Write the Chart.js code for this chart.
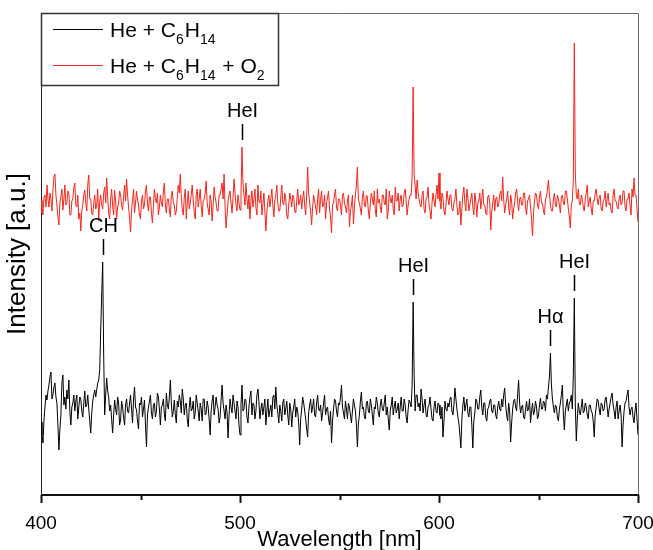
<!DOCTYPE html>
<html>
<head>
<meta charset="utf-8">
<script src="https://cdn.jsdelivr.net/npm/chart.js@4.4.1/dist/chart.umd.min.js"></script>
<style>
  html, body { margin:0; padding:0; background:#fff; }
  #chart { display:block; }
</style>
</head>
<body>
<canvas id="chart" width="653" height="550"></canvas>
<script>
// spectra sampled every 0.5 nm from 400 to 700 nm, intensity in a.u.
const startNm = 400;
const stepNm = 0.5;

// He + C6H14
const heHexane = [
  73,60, 52,75, 88,100, 95,104, 110,118, 123,96, 100,108, 112,98, 92,70, 45,66,
  80,112, 120,90, 98,86, 105,96, 115,84, 70,88, 92,100, 84,94, 100,76, 88,98,
  96,84, 78,92, 104,88, 90,100, 86,74, 62,82, 94,100, 105,98, 105,112, 115,125,
  165,200, 233,140, 80,100, 117,104, 98,84, 90,76, 62,80, 95,86, 80,98, 92,70,
  75,94, 88,78, 70,90, 96,84, 82,92, 100,86, 72,96, 108,88, 85,74, 66,92,
  90,98, 78,86, 95,70, 48,80, 88,94, 100,82, 76,90, 92,78, 84,102, 98,86,
  70,88, 90,96, 80,74, 102,90, 86,98, 115,92, 78,84, 95,80, 72,94, 88,100,
  94,82, 106,96, 80,90, 92,76, 68,88, 98,84, 86,94, 76,82, 100,92, 84,74,
  92,86, 74,96, 96,80, 82,94, 88,76, 60,84, 94,100, 80,88, 98,90, 86,72,
  78,96, 110,92, 84,76, 90,82, 57,80, 96,88, 82,100, 92,84, 76,94, 88,70,
  60,90, 110,84, 86,96, 94,78, 72,88, 98,104, 80,92, 90,76, 84,100, 106,94,
  76,86, 92,80, 88,96, 70,84, 96,78, 84,90, 78,98, 100,86, 108,90, 82,72,
  90,84, 74,92, 96,80, 86,94, 80,70, 92,86, 68,82, 88,96, 78,88, 84,72,
  50,76, 86,98, 92,84, 76,66, 58,82, 90,96, 82,88, 96,80, 78,92, 100,86,
  84,90, 74,82, 92,100, 80,86, 88,76, 70,84, 52,74, 86,96, 94,84, 78,92,
  90,98, 110,88, 82,76, 94,86, 76,92, 88,80, 72,84, 96,90, 84,70, 48,72,
  80,94, 103,86, 88,78, 76,92, 94,84, 82,96, 90,80, 70,88, 86,98, 92,82,
  78,90, 96,86, 84,92, 100,80, 88,76, 65,84, 90,98, 80,88, 94,82, 86,92,
  76,88, 98,84, 84,96, 90,78, 72,86, 95,92, 88,110, 193,120, 84,100, 100,88,
  92,84, 106,96, 82,90, 96,80, 78,88, 90,98, 86,76, 74,88, 94,84, 82,92,
  90,80, 76,88, 58,74, 94,86, 84,92, 88,96, 98,84, 80,90, 107,96, 86,78,
  72,60, 47,76, 90,98, 84,90, 96,82, 78,88, 88,70, 47,74, 82,96, 94,86,
  86,98, 105,88, 80,92, 92,78, 74,86, 88,94, 96,84, 82,90, 90,80, 76,88,
  94,86, 84,96, 88,100, 107,90, 80,74, 92,84, 53,72, 86,94, 96,88, 84,100,
  115,92, 82,88, 90,78, 76,86, 94,84, 86,96, 72,84, 92,80, 84,94, 88,76,
  80,90, 97,86, 86,94, 92,84, 100,96, 108,118, 142,110, 96,88, 82,90, 88,78,
  74,86, 92,100, 110,80, 65,84, 90,96, 84,92, 94,100, 86,120, 197,90, 54,76,
  92,84, 80,88, 96,82, 84,92, 88,80, 76,90, 90,84, 82,74, 58,80, 88,96,
  94,86, 80,92, 90,84, 86,96, 98,88, 78,86, 92,98, 102,90, 84,76, 88,94,
  76,84, 90,80, 48,70, 84,92, 94,100, 105,88, 80,86, 88,78, 72,84, 92,76,
  60
];

// He + C6H14 + O2
const heHexaneO2 = [
  295,282, 280,298, 300,288, 310,296, 288,302, 296,284, 305,318, 321,300, 290,278, 270,292,
  298,306, 285,296, 310,290, 292,304, 302,280, 280,294, 296,308, 312,290, 288,300, 276,282,
  264,284, 290,300, 305,292, 284,310, 320,296, 296,282, 280,292, 300,286, 290,306, 274,294,
  300,290, 286,302, 308,292, 317,298, 282,276, 296,306, 290,280, 305,294, 276,288, 292,304,
  300,290, 285,298, 310,294, 316,300, 288,278, 263,284, 295,306, 282,292, 304,296, 290,280,
  276,294, 300,286, 290,304, 310,292, 284,298, 298,282, 272,290, 306,296, 292,302, 280,288,
  300,292, 288,304, 312,290, 282,296, 296,286, 278,300, 304,292, 290,280, 284,298, 310,302,
  321,298, 286,280, 298,306, 276,292, 304,286, 292,300, 310,294, 282,276, 300,306, 288,296,
  306,290, 278,294, 296,302, 314,292, 286,280, 300,294, 274,290, 308,298, 292,284, 284,300,
  300,306, 312,296, 321,288, 267,280, 294,300, 304,292, 282,298, 316,302, 290,284, 300,292,
  285,300, 348,312, 300,290, 312,296, 286,300, 276,294, 304,288, 296,306, 288,280, 310,294,
  292,304, 280,290, 302,284, 264,282, 294,300, 288,296, 306,290, 278,294, 300,310, 292,284,
  284,298, 310,292, 290,302, 296,280, 276,290, 302,296, 288,300, 298,284, 282,294, 306,290,
  294,300, 286,296, 304,290, 280,300, 328,302, 292,284, 270,288, 300,294, 288,280, 296,306,
  282,296, 304,288, 290,300, 276,292, 298,304, 286,278, 262,290, 292,300, 306,288, 284,296,
  296,290, 280,300, 302,292, 288,282, 294,300, 268,284, 290,300, 271,288, 300,310, 328,296,
  292,286, 280,298, 304,290, 288,300, 298,284, 276,292, 302,296, 290,304, 284,278, 306,292,
  296,288, 282,300, 300,292, 290,306, 276,284, 304,296, 292,300, 286,280, 308,294, 294,302,
  284,296, 300,288, 290,302, 306,294, 280,290, 296,300, 300,318, 408,320, 310,296, 315,302,
  296,290, 288,300, 304,286, 282,296, 298,308, 290,284, 276,292, 302,294, 288,300, 310,296,
  322,294, 286,302, 298,284, 280,290, 304,296, 290,300, 300,286, 284,292, 296,306, 290,280,
  282,294, 270,286, 300,308, 292,284, 306,298, 284,290, 296,302, 288,280, 302,294, 278,292,
  294,302, 286,296, 306,290, 290,282, 280,298, 300,292, 265,284, 292,300, 284,296, 298,288,
  290,300, 304,294, 318,296, 282,290, 296,304, 288,280, 300,294, 276,286, 292,302, 306,294,
  284,296, 298,290, 290,302, 302,288, 280,294, 296,300, 288,276, 259,282, 294,302, 300,290,
  286,298, 304,292, 292,284, 280,296, 298,306, 315,300, 290,284, 284,296, 302,290, 288,300,
  296,290, 282,298, 300,292, 290,304, 304,296, 286,278, 267,290, 294,316, 452,322, 300,296,
  306,292, 290,300, 296,288, 284,296, 302,310, 288,294, 298,286, 280,294, 294,302, 306,296,
  290,298, 300,286, 284,294, 296,304, 288,296, 302,290, 292,284, 282,300, 306,294, 294,288,
  286,296, 300,290, 292,304, 304,288, 284,296, 296,302, 290,280, 306,298, 317,300, 300,286,
  273
];

const xTicks = [400, 450, 500, 550, 600, 650, 700];
const xLabels = [400, 500, 600, 700];

// line assignments: wavelength, which series, label
const peakLabels = [
  { nm: 501, series: 1, text: 'HeI' },
  { nm: 431, series: 0, text: 'CH' },
  { nm: 587, series: 0, text: 'HeI' },
  { nm: 656, series: 0, text: 'H\u03B1' },
  { nm: 668, series: 0, text: 'HeI' }
];

const RED = '#f2261c';
const FONT = '"Liberation Sans", Arial, sans-serif';

const toPoints = arr => arr.map((v, i) => ({ x: startNm + i * stepNm, y: v }));

// axis frame + outward ticks on the wavelength axis
const frame = {
  id: 'frame',
  beforeDatasetsDraw(chart) {
    const { ctx, chartArea: a, scales: { x } } = chart;
    ctx.save();
    ctx.strokeStyle = '#6a6a6a';
    ctx.lineWidth = 1;
    ctx.beginPath();
    ctx.moveTo(a.left, a.top + 0.5); ctx.lineTo(a.right + 0.5, a.top + 0.5);
    ctx.lineTo(a.right + 0.5, a.bottom);
    ctx.stroke();
    ctx.strokeStyle = '#222';
    ctx.beginPath();
    ctx.moveTo(a.left + 0.5, a.top); ctx.lineTo(a.left + 0.5, a.bottom);
    ctx.stroke();
    ctx.strokeStyle = '#111';
    ctx.lineWidth = 2;
    ctx.beginPath();
    ctx.moveTo(a.left, a.bottom); ctx.lineTo(a.right + 1, a.bottom);
    xTicks.forEach(t => {
      const px = Math.round(x.getPixelForValue(t)) + 0.5;
      const len = xLabels.includes(t) ? 8 : 5;
      ctx.moveTo(px, a.bottom); ctx.lineTo(px, a.bottom + len);
    });
    ctx.stroke();
    ctx.restore();
  }
};

// legend with sub-scripted formulas and peak assignments
function drawFormula(ctx, parts, x, y) {
  parts.forEach(([txt, sub]) => {
    ctx.font = sub ? `14px ${FONT}` : `21px ${FONT}`;
    ctx.fillText(txt, x, sub ? y + 7 : y);
    x += ctx.measureText(txt).width + (sub ? 1 : 0);
  });
}

const annotate = {
  id: 'annotate',
  afterDatasetsDraw(chart) {
    const { ctx, chartArea: a, scales: { x, y } } = chart;
    const series = [heHexane, heHexaneO2];
    ctx.save();
    ctx.fillStyle = '#000';
    ctx.strokeStyle = '#000';
    ctx.lineWidth = 1.5;
    ctx.textAlign = 'center';
    ctx.textBaseline = 'middle';
    ctx.font = `20px ${FONT}`;
    peakLabels.forEach(p => {
      const v = series[p.series][(p.nm - startNm) / stepNm];
      const px = Math.round(x.getPixelForValue(p.nm)) + 0.5;
      const py = y.getPixelForValue(v);
      ctx.beginPath();
      ctx.moveTo(px, py - 7); ctx.lineTo(px, py - 23);
      ctx.stroke();
      ctx.fillText(p.text, px, py - 36);
    });

    // legend box
    const lx = a.left, ly = a.top;
    ctx.fillStyle = '#fff';
    ctx.fillRect(lx, ly, 237, 72);
    ctx.strokeStyle = '#333';
    ctx.lineWidth = 1.5;
    ctx.strokeRect(lx + 0.5, ly + 0.5, 237, 72);
    ctx.lineWidth = 1;
    [['#000', 16], [RED, 52]].forEach(([c, dy]) => {
      ctx.strokeStyle = c;
      ctx.beginPath();
      ctx.moveTo(lx + 12, ly + dy + 0.5); ctx.lineTo(lx + 62, ly + dy + 0.5);
      ctx.stroke();
    });
    ctx.fillStyle = '#000';
    ctx.textAlign = 'left';
    ctx.textBaseline = 'alphabetic';
    drawFormula(ctx, [['He + C'], ['6', 1], ['H'], ['14', 1]], lx + 69, ly + 24);
    drawFormula(ctx, [['He + C'], ['6', 1], ['H'], ['14', 1], [' + O'], ['2', 1]], lx + 69, ly + 60);
    ctx.restore();
  }
};

new Chart(document.getElementById('chart').getContext('2d'), {
  type: 'line',
  data: {
    datasets: [
      { label: 'He + C6H14', data: toPoints(heHexane), borderColor: '#000', borderWidth: 1 },
      { label: 'He + C6H14 + O2', data: toPoints(heHexaneO2), borderColor: RED, borderWidth: 1 }
    ]
  },
  options: {
    responsive: false,
    animation: false,
    parsing: false,
    elements: { point: { radius: 0 }, line: { tension: 0 } },
    layout: { padding: { top: 13, right: 15, left: 0, bottom: 0 } },
    plugins: { legend: { display: false }, tooltip: { enabled: false } },
    scales: {
      x: {
        type: 'linear', min: 400, max: 700,
        grid: { display: false },
        border: { display: false },
        afterBuildTicks: s => { s.ticks = xTicks.map(v => ({ value: v })); },
        afterFit: s => { s.height = 55; s.paddingLeft = 0; s.paddingRight = 0; },
        ticks: {
          color: '#000', padding: 9, maxRotation: 0, autoSkip: false,
          font: { family: FONT, size: 19 },
          callback: v => xLabels.includes(v) ? String(v) : ''
        },
        title: {
          display: true, text: 'Wavelength [nm]', color: '#000',
          font: { family: FONT, size: 22 }, padding: { top: 0, bottom: -3 }
        }
      },
      y: {
        min: 0, max: 482,
        grid: { display: false },
        border: { display: false },
        ticks: { display: false },
        afterFit: s => { s.width = 41; },
        title: {
          display: true, text: 'Intensity [a.u.]', color: '#000',
          font: { family: FONT, size: 26 }, padding: { top: 2, bottom: 0 }
        }
      }
    }
  },
  plugins: [frame, annotate]
});
</script>
</body>
</html>
